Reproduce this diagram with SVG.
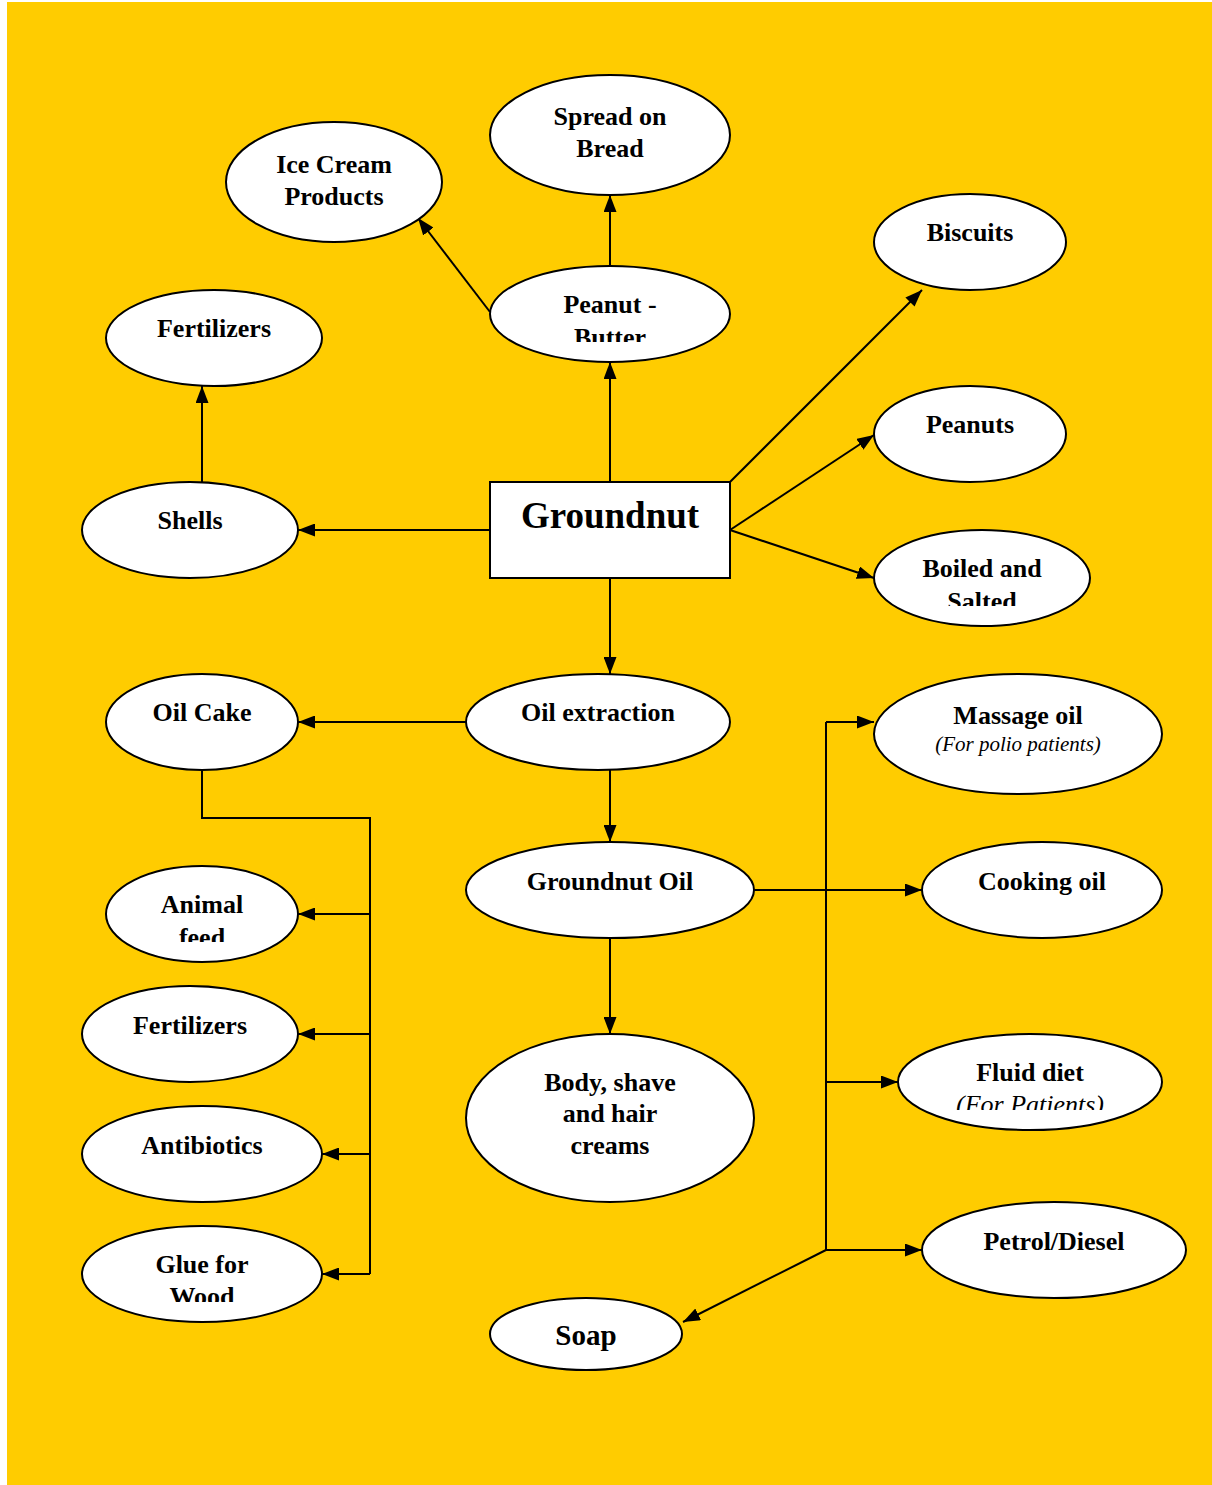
<svg xmlns="http://www.w3.org/2000/svg" width="1212" height="1485" viewBox="0 0 1212 1485">
<style>
.n{fill:#fff;stroke:#000;stroke-width:2}
.t{font-family:"Liberation Serif","Times New Roman",serif;font-weight:bold;font-size:26px;text-anchor:middle;fill:#000}
.i{font-family:"Liberation Serif","Times New Roman",serif;font-style:italic;text-anchor:middle;fill:#000}
.c{fill:none;stroke:#000;stroke-width:2}
</style>
<defs>
<marker id="a" viewBox="0 0 17 13" refX="17" refY="6.5" markerWidth="17" markerHeight="13" markerUnits="userSpaceOnUse" orient="auto">
<path d="M0,0 L17,6.5 L0,13 Z" fill="#000"/>
</marker>
<clipPath id="cPB"><rect x="490" y="266" width="240" height="76"/></clipPath>
<clipPath id="cBS"><rect x="874" y="530" width="216" height="76"/></clipPath>
<clipPath id="cAF"><rect x="106" y="866" width="192" height="76"/></clipPath>
<clipPath id="cFD"><rect x="898" y="1034" width="264" height="76"/></clipPath>
<clipPath id="cGW"><rect x="82" y="1226" width="240" height="76"/></clipPath>
</defs>
<rect x="7" y="2" width="1205" height="1483" fill="#FFCC00"/>

<g id="connectors">
<line class="c" x1="610" y1="482" x2="610" y2="362" marker-end="url(#a)"/>
<line class="c" x1="610" y1="266" x2="610" y2="195" marker-end="url(#a)"/>
<line class="c" x1="490" y1="312" x2="418" y2="218" marker-end="url(#a)"/>
<line class="c" x1="730" y1="482" x2="922" y2="290" marker-end="url(#a)"/>
<line class="c" x1="730" y1="530" x2="874" y2="435" marker-end="url(#a)"/>
<line class="c" x1="730" y1="530" x2="874" y2="578" marker-end="url(#a)"/>
<line class="c" x1="490" y1="530" x2="298" y2="530" marker-end="url(#a)"/>
<line class="c" x1="202" y1="482" x2="202" y2="386" marker-end="url(#a)"/>
<line class="c" x1="610" y1="578" x2="610" y2="674" marker-end="url(#a)"/>
<line class="c" x1="466" y1="722" x2="298" y2="722" marker-end="url(#a)"/>
<line class="c" x1="610" y1="770" x2="610" y2="842" marker-end="url(#a)"/>
<polyline class="c" points="202,770 202,818 370,818 370,1274"/>
<line class="c" x1="370" y1="914" x2="298" y2="914" marker-end="url(#a)"/>
<line class="c" x1="370" y1="1034" x2="298" y2="1034" marker-end="url(#a)"/>
<line class="c" x1="370" y1="1154" x2="322" y2="1154" marker-end="url(#a)"/>
<line class="c" x1="370" y1="1274" x2="322" y2="1274" marker-end="url(#a)"/>
<line class="c" x1="754" y1="890" x2="922" y2="890" marker-end="url(#a)"/>
<line class="c" x1="610" y1="938" x2="610" y2="1034" marker-end="url(#a)"/>
<line class="c" x1="826" y1="722" x2="826" y2="1250"/>
<line class="c" x1="826" y1="722" x2="874" y2="722" marker-end="url(#a)"/>
<line class="c" x1="826" y1="1082" x2="898" y2="1082" marker-end="url(#a)"/>
<line class="c" x1="826" y1="1250" x2="922" y2="1250" marker-end="url(#a)"/>
<line class="c" x1="826" y1="1250" x2="683" y2="1322" marker-end="url(#a)"/>
</g>

<g id="spread"><ellipse class="n" cx="610" cy="135" rx="120" ry="60"/><text class="t" x="610" y="125">Spread on</text><text class="t" x="610" y="157">Bread</text></g>
<g id="icecream"><ellipse class="n" cx="334" cy="182" rx="108" ry="60"/><text class="t" x="334" y="173">Ice Cream</text><text class="t" x="334" y="205">Products</text></g>
<g id="biscuits"><ellipse class="n" cx="970" cy="242" rx="96" ry="48"/><text class="t" x="970" y="241">Biscuits</text></g>
<g id="peanutbutter"><ellipse class="n" cx="610" cy="314" rx="120" ry="48"/><g clip-path="url(#cPB)"><text class="t" x="610" y="313">Peanut -</text><text class="t" x="610" y="346">Butter</text></g></g>
<g id="fertilizers1"><ellipse class="n" cx="214" cy="338" rx="108" ry="48"/><text class="t" x="214" y="337">Fertilizers</text></g>
<g id="peanuts"><ellipse class="n" cx="970" cy="434" rx="96" ry="48"/><text class="t" x="970" y="433">Peanuts</text></g>
<g id="shells"><ellipse class="n" cx="190" cy="530" rx="108" ry="48"/><text class="t" x="190" y="529">Shells</text></g>
<g id="groundnut"><rect class="n" x="490" y="482" width="240" height="96"/><text class="t" x="610" y="528" style="font-size:37px">Groundnut</text></g>
<g id="boiled"><ellipse class="n" cx="982" cy="578" rx="108" ry="48"/><g clip-path="url(#cBS)"><text class="t" x="982" y="577">Boiled and</text><text class="t" x="982" y="610">Salted</text></g></g>
<g id="oilcake"><ellipse class="n" cx="202" cy="722" rx="96" ry="48"/><text class="t" x="202" y="721">Oil Cake</text></g>
<g id="oilextraction"><ellipse class="n" cx="598" cy="722" rx="132" ry="48"/><text class="t" x="598" y="721">Oil extraction</text></g>
<g id="massage"><ellipse class="n" cx="1018" cy="734" rx="144" ry="60"/><text class="t" x="1018" y="724">Massage oil</text><text class="i" x="1018" y="751" style="font-size:21px">(For polio patients)</text></g>
<g id="groundnutoil"><ellipse class="n" cx="610" cy="890" rx="144" ry="48"/><text class="t" x="610" y="890">Groundnut Oil</text></g>
<g id="cooking"><ellipse class="n" cx="1042" cy="890" rx="120" ry="48"/><text class="t" x="1042" y="890">Cooking oil</text></g>
<g id="animalfeed"><ellipse class="n" cx="202" cy="914" rx="96" ry="48"/><g clip-path="url(#cAF)"><text class="t" x="202" y="913">Animal</text><text class="t" x="202" y="946">feed</text></g></g>
<g id="fertilizers2"><ellipse class="n" cx="190" cy="1034" rx="108" ry="48"/><text class="t" x="190" y="1034">Fertilizers</text></g>
<g id="body"><ellipse class="n" cx="610" cy="1118" rx="144" ry="84"/><text class="t" x="610" y="1091">Body, shave</text><text class="t" x="610" y="1122">and hair</text><text class="t" x="610" y="1154">creams</text></g>
<g id="fluid"><ellipse class="n" cx="1030" cy="1082" rx="132" ry="48"/><g clip-path="url(#cFD)"><text class="t" x="1030" y="1081">Fluid diet</text><text class="i" x="1030" y="1113" style="font-size:26px">(For Patients)</text></g></g>
<g id="antibiotics"><ellipse class="n" cx="202" cy="1154" rx="120" ry="48"/><text class="t" x="202" y="1154">Antibiotics</text></g>
<g id="petrol"><ellipse class="n" cx="1054" cy="1250" rx="132" ry="48"/><text class="t" x="1054" y="1250">Petrol/Diesel</text></g>
<g id="glue"><ellipse class="n" cx="202" cy="1274" rx="120" ry="48"/><g clip-path="url(#cGW)"><text class="t" x="202" y="1273">Glue for</text><text class="t" x="202" y="1305">Wood</text></g></g>
<g id="soap"><ellipse class="n" cx="586" cy="1334" rx="96" ry="36"/><text class="t" x="586" y="1345" style="font-size:29px">Soap</text></g>
</svg>
